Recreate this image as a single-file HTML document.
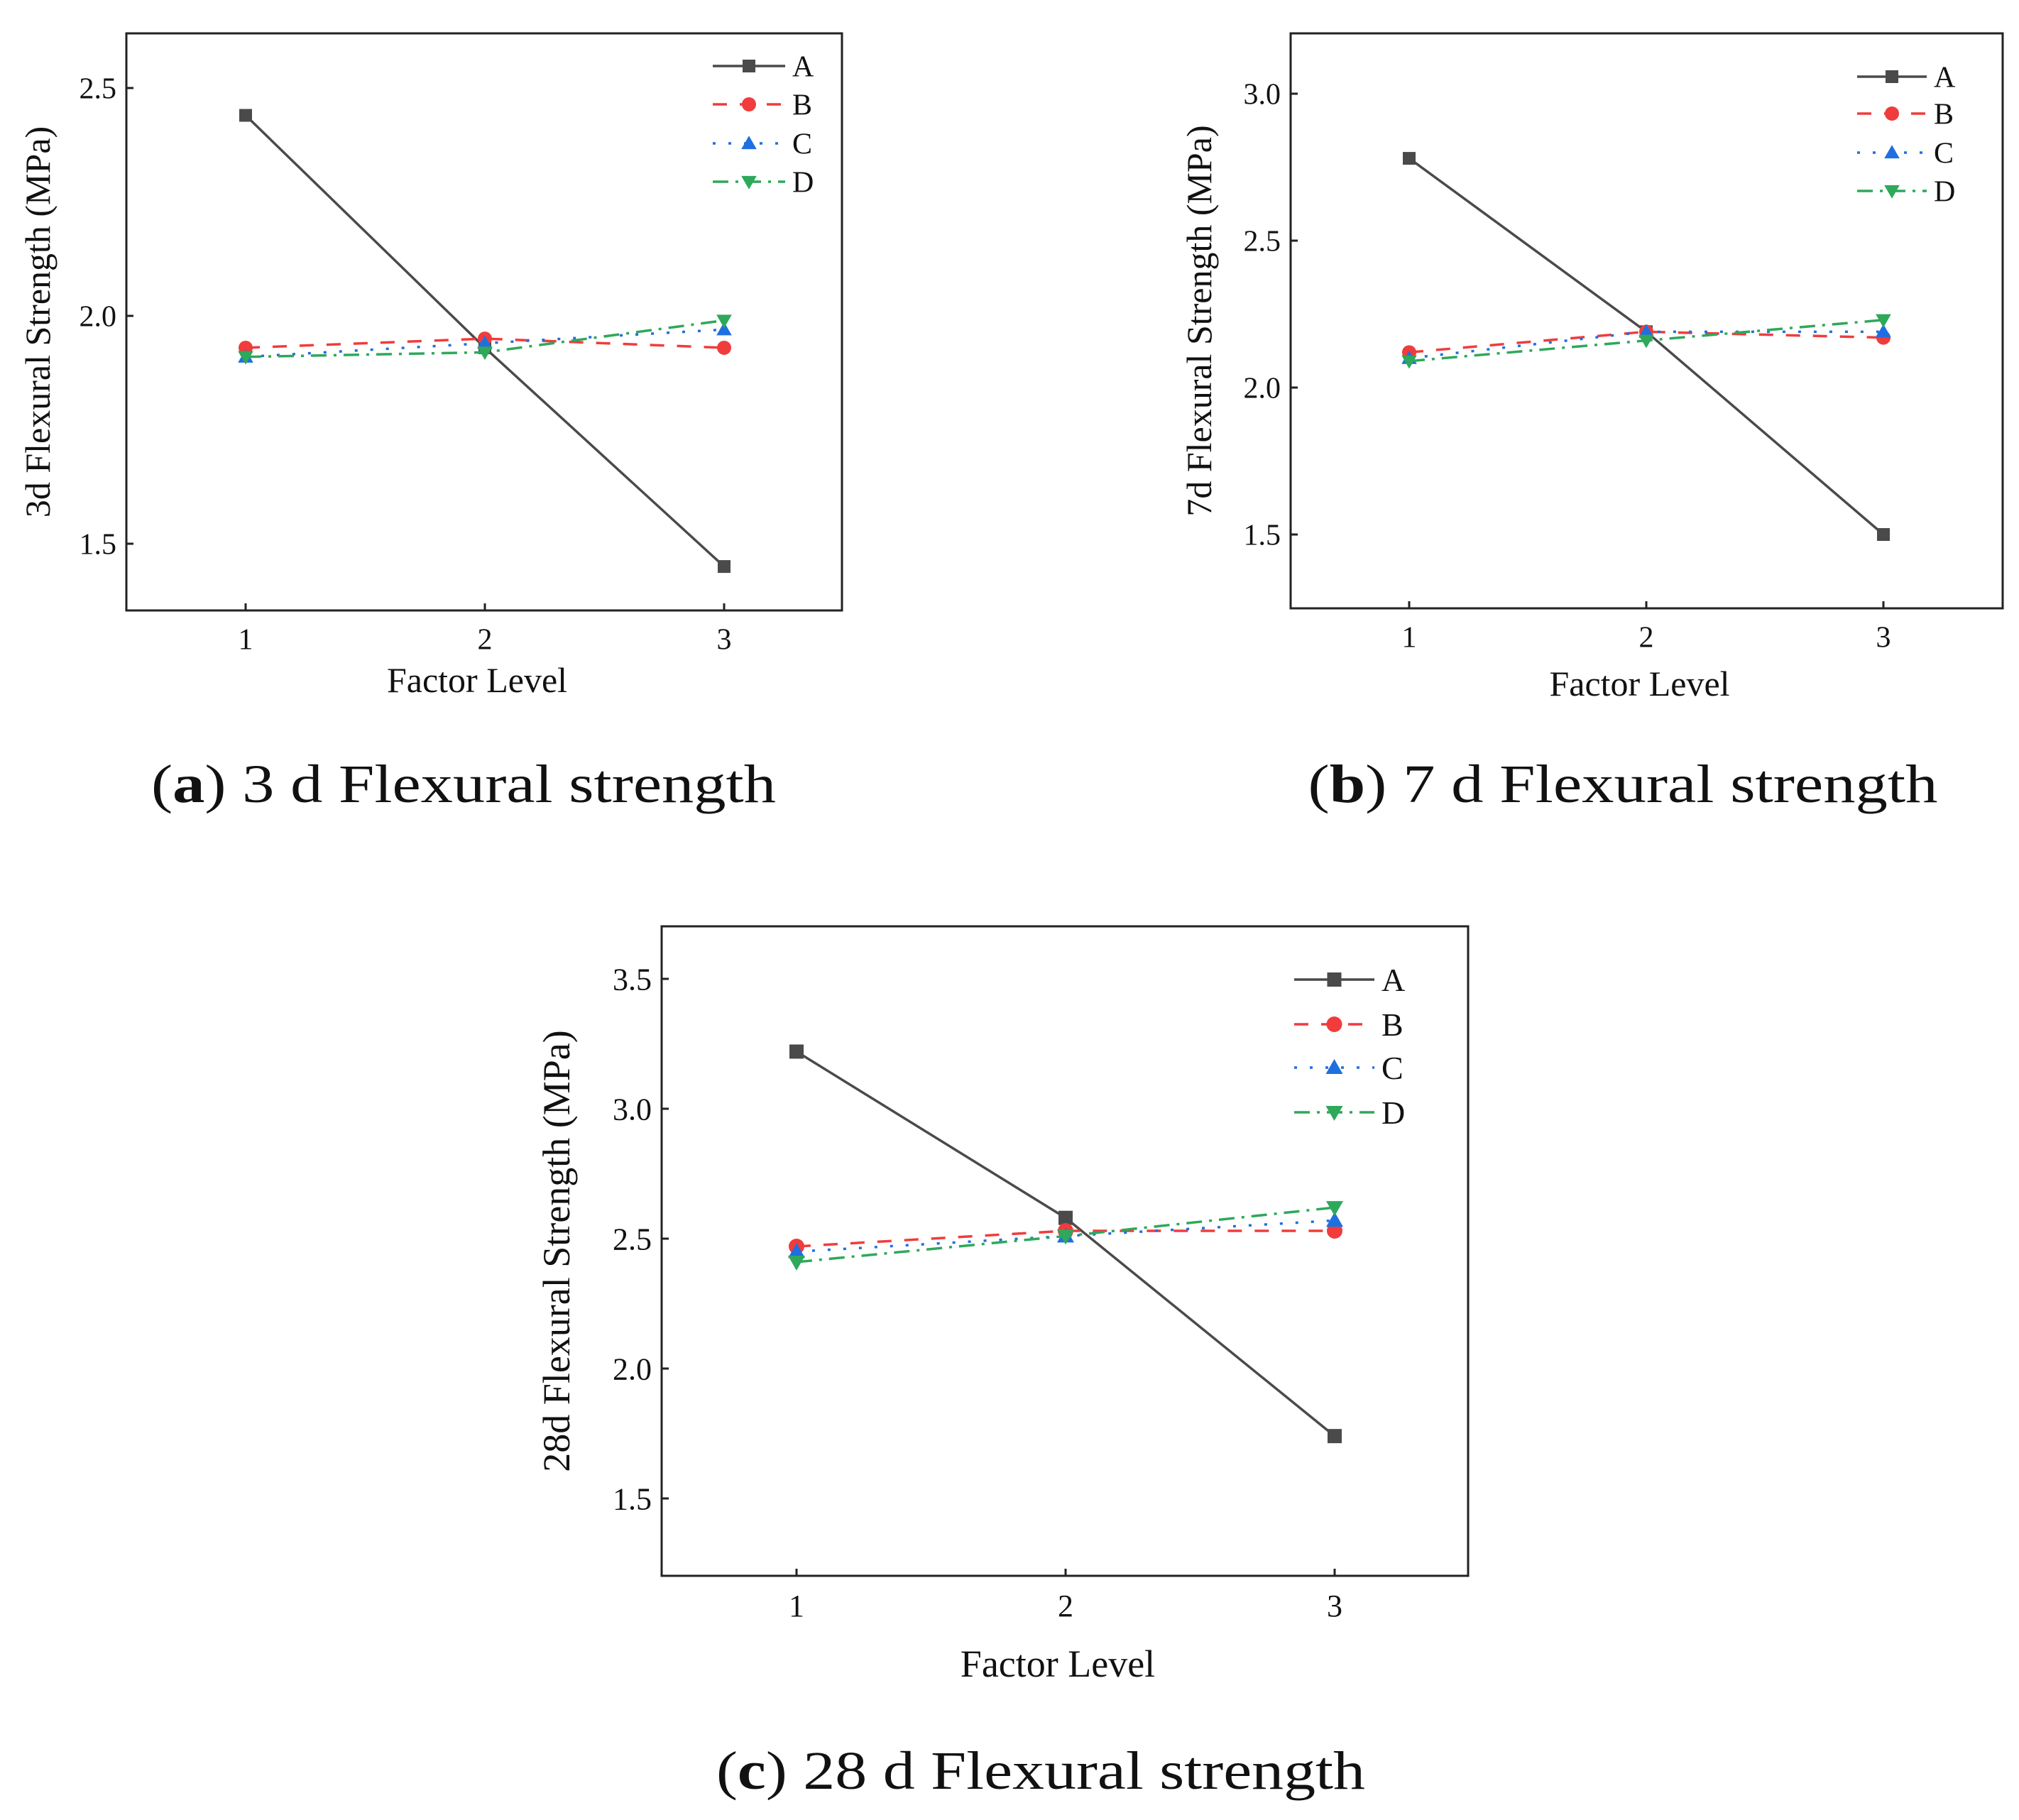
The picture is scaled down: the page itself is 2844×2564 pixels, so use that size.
<!DOCTYPE html>
<html><head><meta charset="utf-8"><style>
html,body{margin:0;padding:0;background:#fff;}
svg{display:block;}
text{font-family:"Liberation Serif","Times New Roman",serif;fill:#111;}
</style></head><body>
<svg id="fig" width="2844" height="2564" viewBox="0 0 2844 2564" xmlns="http://www.w3.org/2000/svg"></svg>
<script>
const levels = [1, 2, 3];
const seriesNames = ["A", "B", "C", "D"];
const a3A = [2.44, 1.93, 1.45];
const a3B = [1.93, 1.95, 1.93];
const a3C = [1.91, 1.94, 1.97];
const a3D = [1.91, 1.92, 1.99];
const b7A = [2.78, 2.19, 1.50];
const b7B = [2.12, 2.19, 2.17];
const b7C = [2.10, 2.19, 2.19];
const b7D = [2.09, 2.16, 2.23];
const c28A = [3.22, 2.58, 1.74];
const c28B = [2.47, 2.53, 2.53];
const c28C = [2.45, 2.51, 2.57];
const c28D = [2.41, 2.51, 2.62];
const ticksA = ["1.5", "2.0", "2.5"];
const ticksB = ["1.5", "2.0", "2.5", "3.0"];
const ticksC = ["1.5", "2.0", "2.5", "3.0", "3.5"];

const NS = "http://www.w3.org/2000/svg";
const FONT = "Liberation Serif, Times New Roman, serif";
const svg = document.getElementById("fig");
function mk(tag, attrs, parent) {
  const e = document.createElementNS(NS, tag);
  for (const k in attrs) e.setAttribute(k, attrs[k]);
  if (tag === "text") e.setAttribute("font-family", FONT);
  (parent || svg).appendChild(e);
  return e;
}
const styles = {
  A: {color: "#4a4a4a", dash: "none"},
  B: {color: "#f03c3c", dash: "20 18"},
  C: {color: "#1f6fe0", dash: "4 18"},
  D: {color: "#2ea85a", dash: "22 10 4 10"}
};
function marker(g, name, x, y, s) {
  const c = styles[name].color;
  let m;
  if (name === "A") m = mk("rect", {x: x - s/2, y: y - s/2, width: s, height: s, fill: c}, g);
  else if (name === "B") m = mk("circle", {cx: x, cy: y, r: s/2 + 1, fill: c}, g);
  else if (name === "C") m = mk("polygon", {points: `${x},${y - s*0.6} ${x - s*0.6},${y + s*0.45} ${x + s*0.6},${y + s*0.45}`, fill: c}, g);
  else m = mk("polygon", {points: `${x},${y + s*0.6} ${x - s*0.6},${y - s*0.45} ${x + s*0.6},${y - s*0.45}`, fill: c}, g);
  
  
}

function chart(cfg) {
  const g = mk("g", {});
  
  
  const xS = v => cfg.x1 + (v - 1) * (cfg.x3 - cfg.x1) / 2;
  const yS = v => cfg.yRef + (v - cfg.vRef) * cfg.pxPerUnit * -1;
  const box = mk("rect", {x: cfg.L, y: cfg.T, width: cfg.R - cfg.L, height: cfg.B - cfg.T, fill: "none", stroke: "#222", "stroke-width": 3}, g);
  
  
  cfg.yticks.forEach(t => {
    const y = yS(parseFloat(t));
    const tk = mk("line", {x1: cfg.L, x2: cfg.L + 10, y1: y, y2: y, stroke: "#222", "stroke-width": 3}, g);
    
    
    const tl = mk("text", {x: cfg.L - 14, y: y + cfg.tf*0.35, "font-size": cfg.tf, "text-anchor": "end"}, g);
    tl.textContent = t;
    
    
  });
  levels.forEach(l => {
    const x = xS(l);
    const tk = mk("line", {x1: x, x2: x, y1: cfg.B, y2: cfg.B - 10, stroke: "#222", "stroke-width": 3}, g);
    
    
    const tl = mk("text", {x: x, y: cfg.B + cfg.tf*1.3, "font-size": cfg.tf, "text-anchor": "middle"}, g);
    tl.textContent = String(l);
    
    
  });
  const xt = mk("text", {x: (cfg.L + cfg.R)/2 - 10, y: cfg.xtY, "font-size": cfg.af, "text-anchor": "middle"}, g);
  xt.textContent = "Factor Level";
  
  
  const ymid = (cfg.T + cfg.B)/2 + cfg.ylOff;
  const yt = mk("text", {x: cfg.ylX, y: ymid, "font-size": cfg.yf, "text-anchor": "middle", transform: `rotate(-90 ${cfg.ylX} ${ymid})`}, g);
  yt.textContent = cfg.ylabel;
  
  
  seriesNames.forEach((n, i) => {
    const vals = cfg.data[i];
    const pts = vals.map((v, j) => `${xS(levels[j])},${yS(v)}`).join(" ");
    const pl = mk("polyline", {points: pts, fill: "none", stroke: styles[n].color, "stroke-width": 3.5, "stroke-dasharray": styles[n].dash}, g);
    
    
    vals.forEach((v, j) => marker(g, n, xS(levels[j]), yS(v), cfg.ms));
    const ly = cfg.legY[i];
    const ll = mk("line", {x1: cfg.legX1, x2: cfg.legX2, y1: ly, y2: ly, stroke: styles[n].color, "stroke-width": 3.5, "stroke-dasharray": styles[n].dash}, g);
    
    
    marker(g, n, (cfg.legX1 + cfg.legX2)/2, ly, cfg.ms);
    const lt = mk("text", {x: cfg.legX2 + 10, y: ly + cfg.lf*0.35, "font-size": cfg.lf}, g);
    lt.textContent = n;
    
    
  });
  const cap = mk("text", {x: cfg.capX, y: cfg.capY, "font-size": 76, "text-anchor": "middle", textLength: cfg.capW, lengthAdjust: "spacingAndGlyphs"}, g);
  
  
  const t1 = mk("tspan", {}, cap); t1.textContent = "(";
  const t2 = mk("tspan", {"font-weight": "bold"}, cap); t2.textContent = cfg.letter;
  const t3 = mk("tspan", {}, cap); t3.textContent = ") " + cfg.caption;
}

chart({id: "chart-3d", L: 178, R: 1186, T: 47, B: 860, x1: 346, x3: 1020,
  vRef: 2.0, yRef: 445, pxPerUnit: 642, yticks: ticksA, tf: 42, af: 50, yf: 50,
  xtY: 975, ylX: 70, ylOff: 0, ylabel: "3d Flexural Strength (MPa)",
  data: [a3A, a3B, a3C, a3D], ms: 18,
  legX1: 1004, legX2: 1106, legY: [93, 147, 202, 256], lf: 42,
  capX: 653, capY: 1130, capW: 880, letter: "a", caption: "3 d Flexural strength"});
chart({id: "chart-7d", L: 1818, R: 2821, T: 47, B: 857, x1: 1985, x3: 2653,
  vRef: 2.0, yRef: 546, pxPerUnit: 414, yticks: ticksB, tf: 42, af: 50, yf: 50,
  xtY: 980, ylX: 1706, ylOff: 0, ylabel: "7d Flexural Strength (MPa)",
  data: [b7A, b7B, b7C, b7D], ms: 18,
  legX1: 2616, legX2: 2714, legY: [108, 160, 215, 269], lf: 42,
  capX: 2286, capY: 1130, capW: 887, letter: "b", caption: "7 d Flexural strength"});
chart({id: "chart-28d", L: 932, R: 2068, T: 1305, B: 2220, x1: 1122, x3: 1880,
  vRef: 2.0, yRef: 1928, pxPerUnit: 366, yticks: ticksC, tf: 44, af: 54, yf: 54,
  xtY: 2362, ylX: 802, ylOff: 0, ylabel: "28d Flexural Strength (MPa)",
  data: [c28A, c28B, c28C, c28D], ms: 20,
  legX1: 1823, legX2: 1936, legY: [1380, 1443, 1504, 1567], lf: 46,
  capX: 1466, capY: 2520, capW: 914, letter: "c", caption: "28 d Flexural strength"});
</script>
</body></html>
